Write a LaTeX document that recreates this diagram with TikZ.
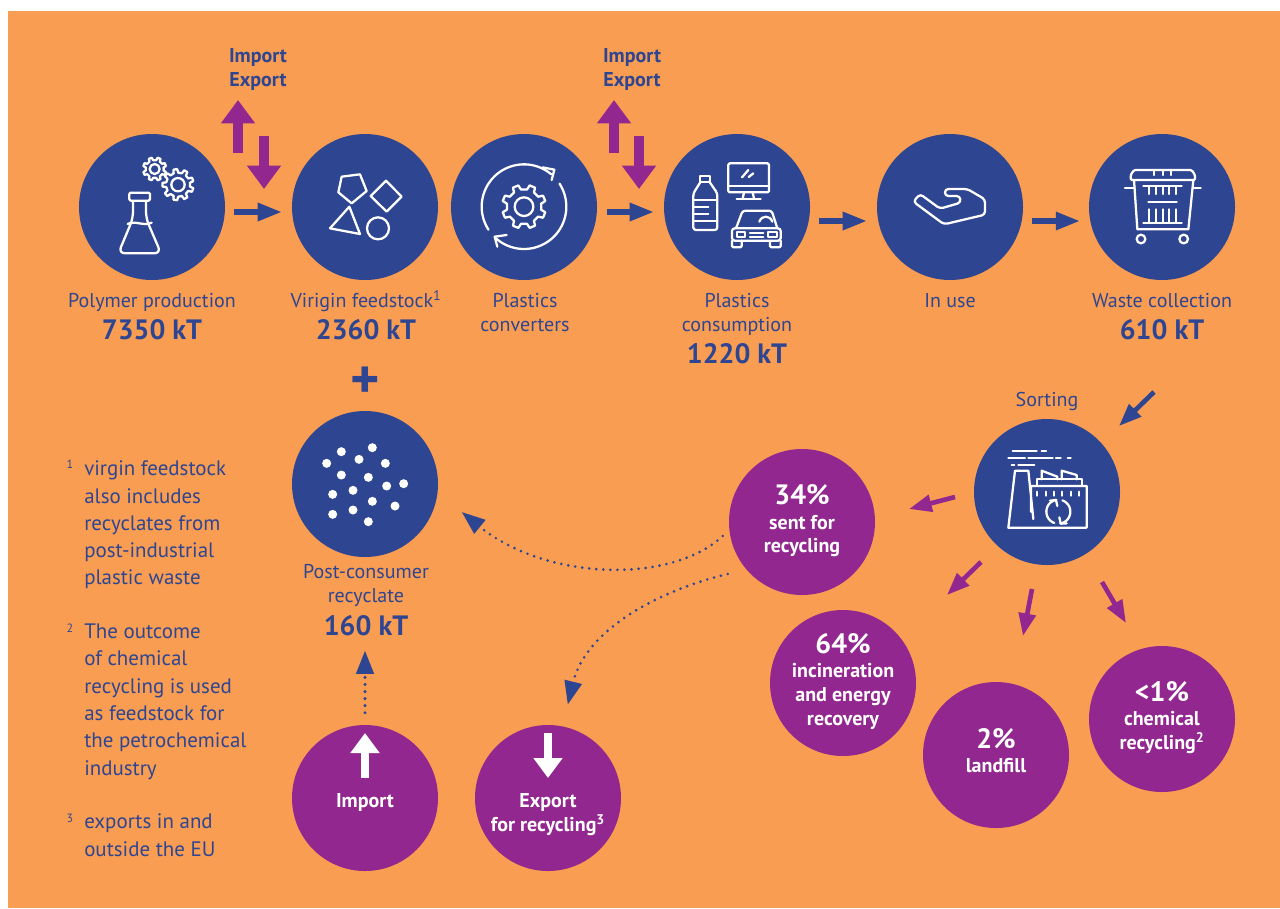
\documentclass[tikz,border=0pt]{standalone}
\usepackage{fontspec}
\setmainfont{PT Sans}
\usetikzlibrary{arrows.meta,calc}
\definecolor{bgor}{HTML}{F99D52}
\definecolor{dblue}{HTML}{2E4591}
\definecolor{dpurp}{HTML}{92278F}
\tikzset{
  x=.75pt,y=-.75pt,
  disc/.style={circle,minimum size=109.5pt,inner sep=0pt,fill=#1,draw=none},
  lab/.style={anchor=base,inner sep=0pt,align=center,text=dblue,font=\fontsize{15}{18}\selectfont},
  val/.style={anchor=base,inner sep=0pt,text=dblue,font=\fontsize{21}{24}\selectfont\bfseries},
  ie/.style={anchor=base,inner sep=0pt,align=center,text=dblue,font=\fontsize{15}{18}\selectfont\bfseries},
  wlab/.style={anchor=base,inner sep=0pt,align=center,text=white,font=\fontsize{15}{18}\selectfont\bfseries},
  wval/.style={anchor=base,inner sep=0pt,text=white,font=\fontsize{21}{24}\selectfont\bfseries},
  fnote/.style={anchor=base west,inner sep=0pt,align=left,text=dblue,font=\fontsize{15.7}{20.5}\selectfont},
  fnum/.style={anchor=base,inner sep=0pt,text=dblue,font=\fontsize{9}{10}\selectfont},
  flow/.style={draw=dblue,line width=3.9pt,-{Triangle[length=18pt,width=13pt]}},
  flowthin/.style={draw=#1,line width=3.5pt,-{Triangle[length=17pt,width=12.5pt]}},
  tradearr/.style={draw=dpurp,line width=6.8pt,-{Triangle[length=17.5pt,width=24.5pt]}},
  whitearr/.style={draw=white,line width=6pt,-{Triangle[length=15pt,width=21pt]}},
  dotarr/.style={draw=dblue,line width=2.2pt,line cap=round,dash pattern=on 0pt off 5.3pt,
     -{Triangle[length=17.5pt,width=13pt,sep=2.5pt]}},
  icon/.style={draw=white,line width=1.7pt,line join=round,line cap=round,fill=none},
  zoomgrid/.style={shift={(#1)},x=.25pt,y=-.25pt},
}
\newcommand{\gearicon}[6]{%
  \draw[icon] ([shift={(#1,#2)}]0:#4)
    \foreach \i [evaluate=\i as \a using (\i-.5)*360/#6] in {1,...,#6} {
      -- ([shift={(#1,#2)}]{\a-100.8/#6}:#4)
      -- ([shift={(#1,#2)}]{\a-61.2/#6}:#3)
      -- ([shift={(#1,#2)}]{\a+61.2/#6}:#3)
      -- ([shift={(#1,#2)}]{\a+100.8/#6}:#4)
    } -- cycle;
  \draw[icon] (#1,#2) circle[radius=#5];
}
\begin{document}
\begin{tikzpicture}
\useasboundingbox (0,0) rectangle (1280,908);
\fill[white] (0,0) rectangle (1280,908);
\fill[bgor] (8,11) rectangle (1280,908);

% discs
\node[disc=dblue] (polymer) at (152,207) {};
\node[disc=dblue] (virgin) at (365,207) {};
\node[disc=dblue] (conv) at (524,207) {};
\node[disc=dblue] (cons) at (737,207) {};
\node[disc=dblue] (inuse) at (950,207) {};
\node[disc=dblue] (waste) at (1162,207) {};
\node[disc=dblue] (sort) at (1047,492) {};
\node[disc=dblue] (post) at (365,484) {};
\node[disc=dpurp] (imp) at (365,798) {};
\node[disc=dpurp] (exp) at (548,798) {};
\node[disc=dpurp] (s34) at (802,522) {};
\node[disc=dpurp] (s64) at (843,683) {};
\node[disc=dpurp] (s2) at (996,755) {};
\node[disc=dpurp] (s1) at (1162,719) {};

% top labels
\node[lab] (lpoly) at (152,307) {Polymer production};
\node[val] (vpoly) at (152,339) {7350 kT};
\node[lab] (lvirg) at (366,307) {Virigin feedstock\textsuperscript{1}};
\node[val] (vvirg) at (366,339) {2360 kT};
\node[lab] (lconv) at (525,307) {Plastics};
\node[lab] (lconv2) at (525,331) {converters};
\node[lab] (lcons) at (737,307) {Plastics};
\node[lab] (lcons2) at (737,331) {consumption};
\node[val] (vcons) at (737,363) {1220 kT};
\node[lab] (luse) at (950,307) {In use};
\node[lab] (lwaste) at (1162,307) {Waste collection};
\node[val] (vwaste) at (1162,339) {610 kT};
\node[ie] (imp1) at (258,62) {Import};
\node[ie] (exp1) at (258,86) {Export};
\node[ie] (imp2) at (632,62) {Import};
\node[ie] (exp2) at (632,86) {Export};
\node[anchor=center,inner sep=0pt,text=dblue,font=\fontsize{42}{42}\selectfont\bfseries] (plus) at (365,383) {+};
\node[lab] (lsort) at (1047,406) {Sorting};
\node[lab] (lpost) at (366,578) {Post-consumer};
\node[lab] (lpost2) at (366,602) {recyclate};
\node[val] (vpost) at (366,635) {160 kT};

% disc texts
\node[wlab] (timp) at (365,807) {Import};
\node[wlab] (texp) at (548,807) {Export};
\node[wlab] (texp2) at (548,831) {for recycling\textsuperscript{3}};
\node[wval] (v34) at (802,504) {34\%};
\node[wlab] (t34a) at (802,529) {sent for};
\node[wlab] (t34b) at (802,552) {recycling};
\node[wval] (v64) at (843,653) {64\%};
\node[wlab] (t64a) at (843,677) {incineration};
\node[wlab] (t64b) at (843,701) {and energy};
\node[wlab] (t64c) at (843,725) {recovery};
\node[wval] (v2) at (996,748) {2\%};
\node[wlab] (t2) at (996,772) {landfill};
\node[wval] (v1) at (1162,701) {<1\%};
\node[wlab] (t1a) at (1162,725) {chemical};
\node[wlab] (t1b) at (1162,749) {recycling\textsuperscript{2}};

% footnotes
\node[fnum] (n1) at (70,468) {1};
\node[fnote] (f1a) at (84,475) {virgin feedstock};
\node[fnote] (f1b) at (84,503) {also includes};
\node[fnote] (f1c) at (84,530) {recyclates from};
\node[fnote] (f1d) at (84,557) {post-industrial};
\node[fnote] (f1e) at (84,584) {plastic waste};
\node[fnum] (n2) at (70,632) {2};
\node[fnote] (f2a) at (84,638) {The outcome};
\node[fnote] (f2b) at (84,665) {of chemical};
\node[fnote] (f2c) at (84,693) {recycling is used};
\node[fnote] (f2d) at (84,720) {as feedstock for};
\node[fnote] (f2e) at (84,747) {the petrochemical};
\node[fnote] (f2f) at (84,775) {industry};
\node[fnum] (n3) at (70,822) {3};
\node[fnote] (f3a) at (84,828) {exports in and};
\node[fnote] (f3b) at (84,856) {outside the EU};

% flow arrows
\draw[flow] ([shift={(9,5)}]polymer.east) -- ([shift={(-10,5)}]virgin.west);
\draw[flow] ([shift={(10,5)}]conv.east) -- ([shift={(-10,5)}]cons.west);
\draw[flow] ([shift={(9,14)}]cons.east) -- ([shift={(-10,14)}]inuse.west);
\draw[flow] ([shift={(9,14)}]inuse.east) -- ([shift={(-9,14)}]waste.west);

% trade arrows
\coordinate (up1a) at (238,153); \coordinate (up1b) at (238,100);
\coordinate (dn1a) at (264,136); \coordinate (dn1b) at (264,189);
\coordinate (up2a) at (614,153); \coordinate (up2b) at (614,100);
\coordinate (dn2a) at (639,136); \coordinate (dn2b) at (639,189);
\draw[tradearr] (up1a) -- (up1b);
\draw[tradearr] (dn1a) -- (dn1b);
\draw[tradearr] (up2a) -- (up2b);
\draw[tradearr] (dn2a) -- (dn2b);

% sorting arrows
\draw[flowthin=dblue] ([shift={(-8,185)}]waste.center) -- ([shift={(72,-66)}]sort.center);
\draw[flowthin=dpurp] ([shift={(-92,5)}]sort.center) -- ([shift={(107,-13)}]s34.center);
\draw[flowthin=dpurp] ([shift={(-66,70)}]sort.center) -- ([shift={(104,-88)}]s64.center);
\draw[flowthin=dpurp] ([shift={(-15,97)}]sort.center) -- ([shift={(27,-119)}]s2.center);
\draw[flowthin=dpurp] ([shift={(55,90)}]sort.center) -- ([shift={(-36,-96)}]s1.center);

% dotted arrows
\draw[dotarr] ([shift={(-6,14)}]s34.west) .. controls (670,585) and (545,580) .. ([shift={(21,26)}]post.east);
\draw[dotarr] ([shift={(-1,52)}]s34.west) .. controls (660,590) and (586,629) .. ([shift={(19,-17)}]exp.north);
\draw[dotarr,line width=2.6pt] ([shift={(0,-12)}]imp.north) -- ([shift={(0,90)}]post.south);

% white arrows
\draw[whitearr] ([shift={(0,-20)}]imp.center) -- ([shift={(0,-65)}]imp.center);
\draw[whitearr] ([shift={(0,-65)}]exp.center) -- ([shift={(0,-20)}]exp.center);

% icon: flask and gears
\begin{scope}[zoomgrid={60,30}]
  \draw[icon,rounded corners=1pt] (208,488) rectangle (270,512);
  \draw[icon,rounded corners=5pt] (219,512) -- (219,565) -- (175,670) -- (303,670) -- (258,565) -- (258,512);
  \draw[icon] (203,582) .. controls (225,570) and (250,590) .. (275,578);
  \gearicon{284}{417}{35}{27}{15}{8}
  \gearicon{354}{464}{47}{36}{20}{9}
  % shapes
  \draw[icon] (845,440) -- (900,433) -- (920,483) -- (875,520) -- (835,487) -- cycle;
  \draw[icon] (978,452) -- (1025,500) -- (980,545) -- (932,498) -- cycle;
  \draw[icon] (868,530) -- (900,612) -- (810,595) -- cycle;
  \draw[icon] (954,595) circle[radius=33];
\end{scope}

% icon: converters and consumption
\begin{scope}[zoomgrid={440,30}]
  \gearicon{252}{530}{66}{52}{28}{8}
  \draw[icon] plot[domain=213:50,samples=40] ({252+127*cos(\x)},{530-127*sin(\x)});
  \draw[icon] (308,412) -- (343,419) -- (335,450);
  \draw[icon] plot[domain=33:-134,samples=40] ({252+127*cos(\x)},{530-127*sin(\x)});
  \draw[icon] (200,615) -- (164,620) -- (172,650);
  % bottle
  \draw[icon] (780,438) rectangle (810,455);
  \draw[icon,rounded corners=2pt] (782,455) -- (760,490) -- (760,600) -- (832,600) -- (832,490) -- (808,455);
  \draw[icon] (760,510) -- (832,510);
  \draw[icon] (760,532) -- (805,532);
  \draw[icon] (760,552) -- (805,552);
  \draw[icon] (760,572) -- (832,572);
  % monitor
  \draw[icon,rounded corners=1pt] (865,400) rectangle (987,487);
  \draw[icon] (865,468) -- (987,468);
  \draw[icon] (912,487) -- (908,506);
  \draw[icon] (938,487) -- (942,506);
  \draw[icon] (890,507) -- (962,507);
  \draw[icon] (906,442) -- (925,420);
  \draw[icon] (926,441) -- (940,430);
  % car
  \draw[icon,rounded corners=2pt] (888,595) -- (908,542) -- (995,542) -- (1012,595);
  \draw[icon,rounded corners=2pt] (876,632) -- (876,595) -- (1022,595) -- (1022,632) -- cycle;
  \draw[icon,rounded corners=1pt] (876,632) -- (876,652) -- (905,652) -- (905,632);
  \draw[icon,rounded corners=1pt] (990,632) -- (990,652) -- (1022,652) -- (1022,632);
  \draw[icon] (890,605) rectangle (915,620);
  \draw[icon] (985,605) rectangle (1012,620);
  \draw[icon] (930,608) -- (970,608);
  \draw[icon] (930,620) -- (970,620);
  \draw[icon] (958,575) .. controls (965,555) and (990,555) .. (997,575);
\end{scope}

% icon: hand and bin
\begin{scope}[zoomgrid={860,120}]
  \draw[icon,rounded corners=2.5pt] (180,222) -- (240,266) -- (302,248) -- (300,228) -- (255,228) -- (255,207) -- (322,207) -- (375,238) -- (375,284) -- (252,313) -- (160,245) -- cycle;
  \draw[icon,rounded corners=1pt] (812,180) -- (812,165) -- (822,150) -- (995,150) -- (1005,165) -- (1005,180) -- cycle;
  \draw[icon] (882,150) -- (882,165); \draw[icon] (908,150) -- (908,165); \draw[icon] (932,150) -- (932,165);
  \draw[icon] (795,203) -- (824,203); \draw[icon] (998,203) -- (1022,203);
  \draw[icon] (822,180) -- (832,328) -- (985,328) -- (1000,180);
  \draw[icon] (850,198) -- (965,198);
  \foreach \t in {868,888,908,928,948} {\draw[icon] (\t,198) -- (\t,222);}
  \draw[icon] (865,245) -- (950,245);
  \draw[icon] (850,308) -- (965,308);
  \foreach \t in {868,888,908,928,948} {\draw[icon] (\t,308) -- (\t,268);}
  \draw[icon] (843,357) circle[radius=13];
  \draw[icon] (971,357) circle[radius=13];
\end{scope}

% icon: factory
\begin{scope}[zoomgrid={900,380}]
  \draw[icon] (400,417) -- (385,272) -- (345,272) -- (325,443) -- (560,443) -- (560,318) -- (393,318) -- (393,395);
  \draw[icon] (410,318) -- (410,298) -- (545,298) -- (545,318);
  \draw[icon] (425,298) -- (425,272) -- (472,290) -- (472,298);
  \draw[icon] (485,298) -- (485,272) -- (530,285) -- (530,298);
  \foreach \t in {410,437,462,487,512,537} {\draw[icon] (\t,335) -- (\t,347);}
  \draw[icon] (338,214) -- (410,214); \draw[icon] (425,214) -- (438,214);
  \draw[icon] (325,235) -- (375,235); \draw[icon] (385,235) -- (458,235);
  \draw[icon] (468,235) -- (482,235); \draw[icon] (503,235) -- (512,235);
  \draw[icon] (335,254) -- (343,254); \draw[icon] (355,254) -- (403,254);
  \draw[icon] plot[domain=250:100,samples=20] ({475+36*cos(\x)},{395-36*sin(\x)});
  \draw[icon] (450,362) -- (468,360) -- (472,378);
  \draw[icon] plot[domain=70:-80,samples=20] ({475+36*cos(\x)},{395-36*sin(\x)});
  \draw[icon] (500,430) -- (482,431) -- (478,412);
\end{scope}

% icon: recyclate dots
\begin{scope}[zoomgrid={280,400}]
  \foreach \px/\py in {184/155,277/143,140/190,237/178,316/190,184/225,265/232,320/258,371/251,158/283,219/271,277/304,345/318,158/343,219/330,265/365}
    {\fill[white] (\px,\py) circle[radius=13.5];}
\end{scope}
\end{tikzpicture}
\end{document}
